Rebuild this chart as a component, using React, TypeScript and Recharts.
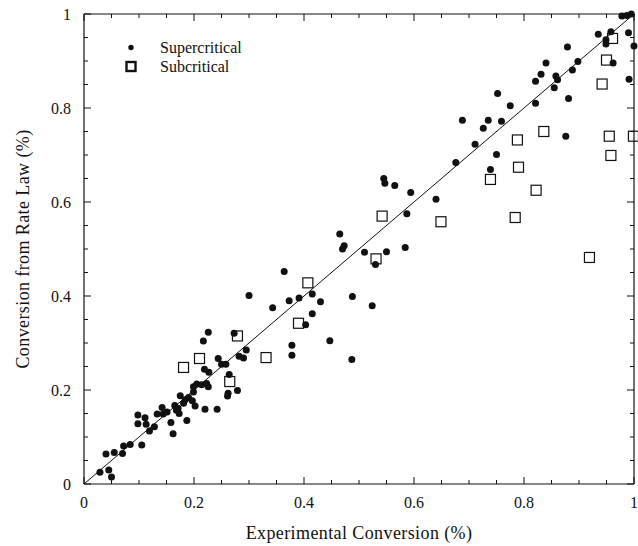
import React from 'react';
import { ScatterChart, Scatter, XAxis, YAxis, ReferenceLine, Legend } from 'recharts';

// [experimental, rate law] pairs
const SUPERCRITICAL: [number, number][] = [
    [0.029, 0.025], [0.04, 0.064], [0.045, 0.03], [0.05, 0.015], [0.055, 0.067], [0.07, 0.065],
    [0.072, 0.081], [0.084, 0.084], [0.098, 0.147], [0.098, 0.128], [0.105, 0.083], [0.111, 0.141],
    [0.113, 0.127], [0.119, 0.113], [0.128, 0.122],
    [0.133, 0.149], [0.142, 0.163], [0.144, 0.149], [0.151, 0.153], [0.158, 0.131], [0.162, 0.107],
    [0.165, 0.167], [0.168, 0.157], [0.171, 0.161], [0.173, 0.15], [0.175, 0.188], [0.181, 0.172],
    [0.184, 0.179], [0.187, 0.135], [0.19, 0.184], [0.197, 0.177], [0.199, 0.207], [0.199, 0.196],
    [0.202, 0.166], [0.205, 0.213], [0.214, 0.211], [0.22, 0.159], [0.223, 0.214], [0.226, 0.207],
    [0.242, 0.159], [0.261, 0.187], [0.262, 0.193], [0.279, 0.199],
    [0.217, 0.304], [0.226, 0.323], [0.273, 0.321], [0.295, 0.285], [0.282, 0.272], [0.29, 0.268],
    [0.244, 0.267], [0.25, 0.255], [0.258, 0.255], [0.219, 0.244], [0.227, 0.238], [0.264, 0.233],
    [0.3, 0.401], [0.343, 0.375], [0.364, 0.452], [0.373, 0.39], [0.391, 0.396], [0.378, 0.295],
    [0.378, 0.274], [0.403, 0.339], [0.415, 0.404], [0.43, 0.388], [0.415, 0.362], [0.447, 0.305],
    [0.465, 0.532], [0.47, 0.5], [0.473, 0.507], [0.51, 0.493], [0.55, 0.494], [0.584, 0.503],
    [0.53, 0.467], [0.488, 0.399], [0.524, 0.379], [0.487, 0.265], [0.587, 0.575], [0.594, 0.62],
    [0.64, 0.606], [0.545, 0.65], [0.547, 0.64], [0.565, 0.635],
    [0.676, 0.684], [0.688, 0.774], [0.711, 0.723], [0.726, 0.757], [0.735, 0.774], [0.739, 0.669],
    [0.75, 0.701], [0.752, 0.831], [0.759, 0.772], [0.775, 0.805], [0.821, 0.81], [0.821, 0.857],
    [0.831, 0.872], [0.84, 0.896], [0.855, 0.843], [0.858, 0.868], [0.861, 0.86], [0.876, 0.74],
    [0.879, 0.93], [0.881, 0.82], [0.888, 0.881], [0.898, 0.899], [0.935, 0.957], [0.949, 0.945],
    [0.949, 0.936], [0.958, 0.962], [0.962, 0.896], [0.978, 0.996], [0.987, 0.997], [0.995, 1.0],
    [0.99, 0.96], [0.991, 0.861], [1.0, 0.932],
];

const SUBCRITICAL: [number, number][] = [
    [0.181, 0.248], [0.21, 0.267], [0.265, 0.218], [0.279, 0.315], [0.331, 0.269], [0.39, 0.342],
    [0.407, 0.428], [0.531, 0.479], [0.542, 0.57], [0.649, 0.558], [0.739, 0.648], [0.784, 0.567],
    [0.788, 0.732], [0.79, 0.674], [0.822, 0.625], [0.836, 0.75], [0.919, 0.482], [0.942, 0.851],
    [0.95, 0.902], [0.955, 0.74], [0.958, 0.699], [0.961, 0.948], [0.999, 0.74],
];

const TICKS = [0, 0.05, 0.1, 0.15, 0.2, 0.25, 0.3, 0.35, 0.4, 0.45, 0.5, 0.55, 0.6, 0.65, 0.7, 0.75, 0.8, 0.85, 0.9, 0.95, 1];
const TICK_LABELS: Record<string, string> = { '0': '0', '0.2': '0.2', '0.4': '0.4', '0.6': '0.6', '0.8': '0.8', '1': '1' };

const FONT = '"Liberation Serif", serif';
const INK = '#111';
const PLOT_W = 550;
const PLOT_H = 470;

const superData = SUPERCRITICAL.map(([x, y]) => ({ x, y }));
const subData = SUBCRITICAL.map(([x, y]) => ({ x, y }));

const titleStyle = { fontFamily: FONT, fontSize: 18, letterSpacing: '0.4px', fill: INK };

const BottomTick = (props: any) => {
    const { x, y, payload } = props;
    const label = TICK_LABELS[String(payload.value)];
    const len = label ? 7 : 4;
    return (
        <g>
            <line x1={x} y1={y} x2={x} y2={y - len} stroke={INK} />
            <line x1={x} y1={y - PLOT_H} x2={x} y2={y - PLOT_H + len} stroke={INK} />
            {label && (
                <text x={x} y={y + 24} textAnchor="middle" style={{ fontFamily: FONT, fontSize: 16 }} fill={INK}>
                    {label}
                </text>
            )}
        </g>
    );
};

const LeftTick = (props: any) => {
    const { x, y, payload } = props;
    const label = TICK_LABELS[String(payload.value)];
    const len = label ? 7 : 4;
    return (
        <g>
            <line x1={x} y1={y} x2={x + len} y2={y} stroke={INK} />
            <line x1={x + PLOT_W} y1={y} x2={x + PLOT_W - len} y2={y} stroke={INK} />
            {label && (
                <text x={x - 13} y={y + 5.5} textAnchor="end" style={{ fontFamily: FONT, fontSize: 16 }} fill={INK}>
                    {label}
                </text>
            )}
        </g>
    );
};

const Dot = (props: any) => <circle cx={props.cx} cy={props.cy} r={3.5} fill={INK} />;
const Square = (props: any) => (
    <rect x={props.cx - 5} y={props.cy - 5} width={10} height={10} fill="none" stroke={INK} strokeWidth={1.2} />
);

const LegendBox = () => (
    <div style={{ fontFamily: FONT, fontSize: 16, color: INK, lineHeight: '19px' }}>
        <div style={{ display: 'flex', alignItems: 'center', height: 19 }}>
            <svg width={20} height={19}>
                <circle cx={10} cy={9.5} r={2.7} fill={INK} />
            </svg>
            <span style={{ marginLeft: 19 }}>Supercritical</span>
        </div>
        <div style={{ display: 'flex', alignItems: 'center', height: 19 }}>
            <svg width={20} height={19}>
                <rect x={5.5} y={5} width={9} height={9} fill="none" stroke={INK} strokeWidth={2.4} />
            </svg>
            <span style={{ marginLeft: 19 }}>Subcritical</span>
        </div>
    </div>
);

export default function App() {
    return (
        <div style={{ position: 'absolute', left: 0, top: 0, background: '#fff' }}>
            <ScatterChart width={638} height={546} margin={{ top: 14, right: 4, bottom: 61, left: 83 }}>
                <XAxis
                    type="number"
                    dataKey="x"
                    domain={[0, 1]}
                    ticks={TICKS}
                    interval={0}
                    height={1}
                    tickSize={0}
                    tickMargin={0}
                    tickLine={false}
                    tick={<BottomTick />}
                    axisLine={{ stroke: INK, strokeWidth: 1.2 }}
                    label={{ value: 'Experimental Conversion (%)', position: 'bottom', offset: 41, style: titleStyle }}
                />
                <YAxis
                    type="number"
                    dataKey="y"
                    domain={[0, 1]}
                    ticks={TICKS}
                    interval={0}
                    width={1}
                    tickSize={0}
                    tickMargin={0}
                    tickLine={false}
                    tick={<LeftTick />}
                    axisLine={{ stroke: INK, strokeWidth: 1.2 }}
                    label={{ value: 'Conversion from Rate Law (%)', position: 'left', angle: -90, offset: 60, style: { ...titleStyle, textAnchor: 'middle' } }}
                />
                <ReferenceLine y={1} stroke={INK} strokeWidth={1.2} />
                <ReferenceLine x={1} stroke={INK} strokeWidth={1.2} />
                <ReferenceLine segment={[{ x: 0, y: 0 }, { x: 1, y: 1 }]} stroke={INK} strokeWidth={1} />
                <Legend
                    layout="vertical"
                    verticalAlign="middle"
                    align="center"
                    content={<LegendBox />}
                    wrapperStyle={{ left: 121, top: 38, width: 'auto' }}
                />
                <Scatter name="Supercritical" data={superData} shape={<Dot />} isAnimationActive={false} />
                <Scatter name="Subcritical" data={subData} shape={<Square />} isAnimationActive={false} />
            </ScatterChart>
        </div>
    );
}
